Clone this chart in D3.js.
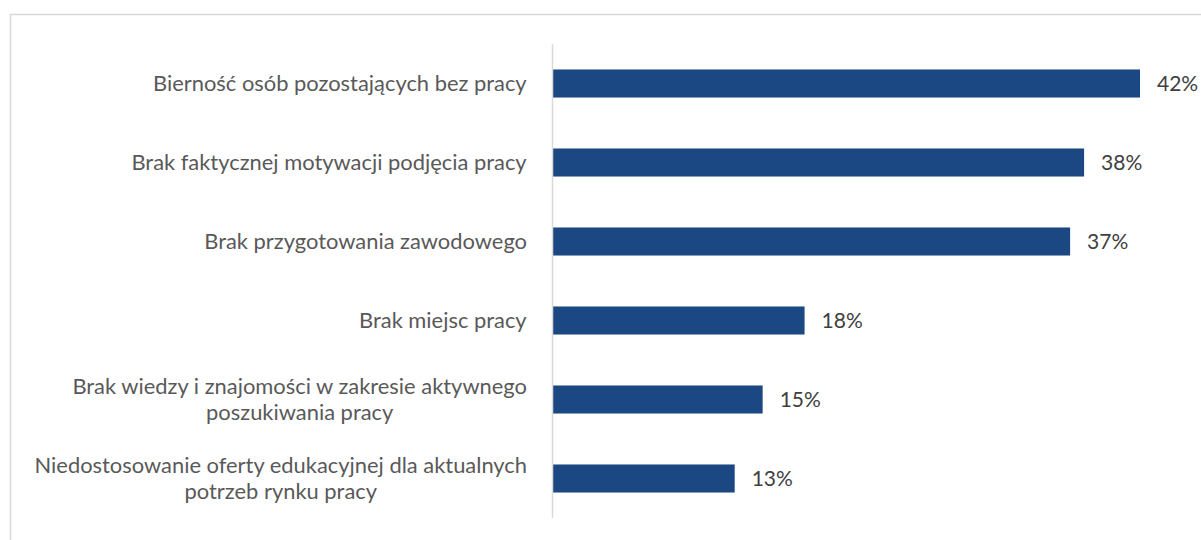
<!DOCTYPE html>
<html><head><meta charset="utf-8">
<script src="https://cdn.jsdelivr.net/npm/d3@7"></script>
<style>body{margin:0;background:#fff}svg{display:block}</style>
</head><body>
<svg id="c" width="1201" height="540"></svg>
<script>
const categories = [
  ["Bierność osób pozostających bez pracy"],
  ["Brak faktycznej motywacji podjęcia pracy"],
  ["Brak przygotowania zawodowego"],
  ["Brak miejsc pracy"],
  ["Brak wiedzy i znajomości w zakresie aktywnego", "poszukiwania pracy"],
  ["Niedostosowanie oferty edukacyjnej dla aktualnych", "potrzeb rynku pracy"]
];
const values = [42, 38, 37, 18, 15, 13];
const valueLabels = ["42%", "38%", "37%", "18%", "15%", "13%"];

const svg = d3.select("#c");
svg.append("rect").attr("x", 10.5).attr("y", 14.5).attr("width", 1300).attr("height", 600)
  .attr("fill", "none").attr("stroke", "#d9d9d9").attr("stroke-width", 1.5);

const x0 = 553;
const x = d3.scaleLinear().domain([0, 42]).range([x0, 1140]);
const y = d3.scaleBand().domain(d3.range(values.length)).range([44, 518])
  .paddingInner(0.645).paddingOuter(0.3225);

svg.append("g").selectAll("rect").data(values).join("rect")
  .attr("x", x(0)).attr("y", (d, i) => y(i))
  .attr("width", d => x(d) - x(0)).attr("height", y.bandwidth())
  .attr("fill", "#1b4882");

svg.append("line").attr("x1", x0 - 0.5).attr("x2", x0 - 0.5).attr("y1", 44).attr("y2", 518)
  .attr("stroke", "#d9d9d9").attr("stroke-width", 1.5);

const font = "Lato, 'Open Sans', sans-serif";
const fs = 21.9;
const lh = 26;
categories.forEach((lines, i) => {
  const cy = y(i) + y.bandwidth() / 2;
  const g = svg.append("g");
  const t = g.append("text").attr("font-family", font).attr("font-size", fs)
    .attr("fill", "#595959").attr("text-anchor", "middle");
  lines.forEach((s, j) => {
    t.append("tspan").attr("x", 0)
      .attr("y", cy + (j - (lines.length - 1) / 2) * lh)
      .attr("dy", "0.35em").text(s);
  });
  const w = t.node().getBBox().width;
  g.attr("transform", `translate(${527 - w / 2},0)`);
});

svg.append("g").selectAll("text").data(values).join("text")
  .attr("x", d => x(d) + 17).attr("y", (d, i) => y(i) + y.bandwidth() / 2)
  .attr("dy", "0.35em").attr("font-family", font).attr("font-size", 21)
  .attr("fill", "#404040").text((d, i) => valueLabels[i]);
</script>
</body></html>
